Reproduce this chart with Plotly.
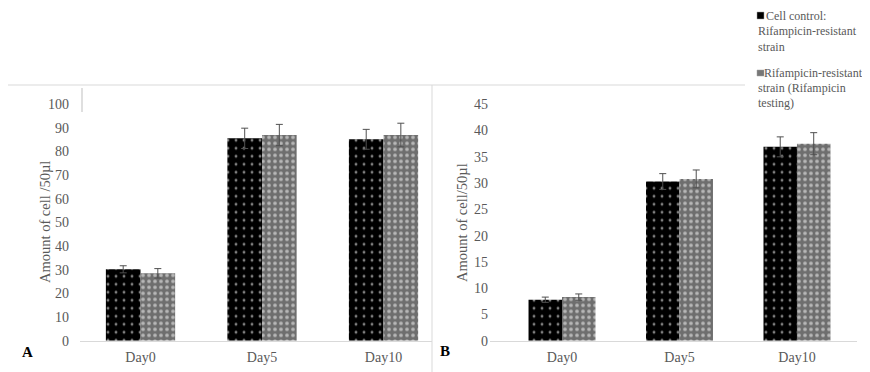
import plotly.graph_objects as go

# page body has an 8px margin: the figure is placed at (8, 8)
OFF = 8
W, H = 870 - OFF, 372 - OFF

days = ["Day0", "Day5", "Day10"]
legend_lines = [["Cell control:", "Rifampicin-resistant", "strain"],
                ["Rifampicin-resistant", "strain (Rifampicin", "testing)"]]

a_control = [30.2, 85.6, 85.2]
a_control_err = [1.5, 4.3, 4.2]
a_test = [28.5, 87.0, 87.0]
a_test_err = [2.0, 4.5, 5.0]

b_control = [7.8, 30.3, 36.9]
b_control_err = [0.5, 1.5, 1.9]
b_test = [8.3, 30.8, 37.5]
b_test_err = [0.6, 1.7, 2.1]

a_ticks = [0, 10, 20, 30, 40, 50, 60, 70, 80, 90, 100]
b_ticks = [0, 5, 10, 15, 20, 25, 30, 35, 40, 45]

FONT = "Liberation Serif"
GREY_TXT = "#595959"
LINE = "#d9d9d9"


def px(x):
    return (x - OFF) / W


def py(y):
    return 1 - (y - OFF) / H


black_pat = dict(shape=".", bgcolor="#000000", fgcolor="#ffffff", size=8, solidity=0.1)
grey_pat = dict(shape=".", bgcolor="#6e6e6e", fgcolor="#ffffff", size=6, solidity=0.3)
err_style = dict(type="data", color="#505050", thickness=1, width=3.5)

fig = go.Figure()
fig.add_trace(go.Bar(x=days, y=a_control, name="Cell control: Rifampicin-resistant strain",
                     marker=dict(color="#000000", pattern=black_pat, line=dict(width=0)),
                     error_y=dict(array=a_control_err, **err_style), xaxis="x", yaxis="y"))
fig.add_trace(go.Bar(x=days, y=a_test, name="Rifampicin-resistant strain (Rifampicin testing)",
                     marker=dict(color="#6e6e6e", pattern=grey_pat, line=dict(width=0)),
                     error_y=dict(array=a_test_err, **err_style), xaxis="x", yaxis="y"))
fig.add_trace(go.Bar(x=days, y=b_control, name="Cell control: Rifampicin-resistant strain",
                     marker=dict(color="#000000", pattern=black_pat, line=dict(width=0)),
                     error_y=dict(array=b_control_err, **err_style), xaxis="x2", yaxis="y2"))
fig.add_trace(go.Bar(x=days, y=b_test, name="Rifampicin-resistant strain (Rifampicin testing)",
                     marker=dict(color="#6e6e6e", pattern=grey_pat, line=dict(width=0)),
                     error_y=dict(array=b_test_err, **err_style), xaxis="x2", yaxis="y2"))

ydom = [py(340.7), py(104.3)]
tickfont = dict(family=FONT, size=14, color=GREY_TXT)

fig.update_layout(
    width=W, height=H,
    margin=dict(l=0, r=0, t=0, b=0, autoexpand=False),
    paper_bgcolor="white", plot_bgcolor="white",
    barmode="group", bargap=0.43, bargroupgap=0,
    font=dict(family=FONT, color=GREY_TXT),
    showlegend=False,
    xaxis=dict(domain=[px(80), px(432)], range=[-0.498, 2.399], showline=True,
               linecolor=LINE, linewidth=1, showgrid=False, ticks="",
               tickfont=tickfont, ticklabelstandoff=3),
    yaxis=dict(domain=ydom, range=[0, 100], tickvals=a_ticks, showgrid=False,
               showline=False, zeroline=False, tickfont=tickfont,
               ticklabelstandoff=10, anchor="x"),
    xaxis2=dict(domain=[px(490), px(857)], range=[-0.613, 2.511], showline=True,
                linecolor=LINE, linewidth=1, showgrid=False, ticks="",
                tickfont=tickfont, ticklabelstandoff=3, anchor="y2"),
    yaxis2=dict(domain=ydom, range=[0, 45], tickvals=b_ticks, showgrid=False,
                showline=False, zeroline=False, tickfont=tickfont,
                ticklabelstandoff=1, anchor="x2"),
)

fig.add_annotation(text="Amount of cell /50µl", x=px(35), y=py(222), xref="paper", yref="paper",
                   textangle=-90, showarrow=False, font=dict(family=FONT, size=14.5, color=GREY_TXT))
fig.add_annotation(text="Amount of cell/50µl", x=px(462), y=py(222), xref="paper", yref="paper",
                   textangle=-90, showarrow=False, font=dict(family=FONT, size=14.5, color=GREY_TXT))
fig.add_annotation(text="<b>A</b>", x=px(20), y=py(362), xref="paper", yref="paper",
                   showarrow=False, font=dict(family=FONT, size=15, color="#000000"))
fig.add_annotation(text="<b>B</b>", x=px(445), y=py(361), xref="paper", yref="paper",
                   showarrow=False, font=dict(family=FONT, size=15, color="#000000"))

# custom legend (text as annotations, swatches as shapes)
legend_y = [[16, 31, 47], [73, 88, 103]]
legend_x = [[764, 756, 756], [762, 756, 756]]
swatch_colors = ["#000000", "#777777"]
swatch_y = [(12, 19), (70, 76)]
for i in range(2):
    for j, line in enumerate(legend_lines[i]):
        fig.add_annotation(text=line, x=px(legend_x[i][j]), y=py(legend_y[i][j]),
                           xref="paper", yref="paper", xanchor="left", yanchor="middle",
                           showarrow=False, font=dict(family=FONT, size=12, color=GREY_TXT))
    fig.add_shape(type="rect", xref="paper", yref="paper", x0=px(757), x1=px(764),
                  y0=py(swatch_y[i][1]), y1=py(swatch_y[i][0]),
                  fillcolor=swatch_colors[i], line=dict(color="#a0a0a0", width=0.5))

# frame lines
fig.add_shape(type="line", xref="paper", yref="paper", x0=0, x1=px(745), y0=py(85), y1=py(85),
              line=dict(color=LINE, width=1))
fig.add_shape(type="line", xref="paper", yref="paper", x0=px(432), x1=px(432), y0=py(85), y1=0,
              line=dict(color=LINE, width=1))
fig.add_shape(type="line", xref="paper", yref="paper", x0=px(82), x1=px(82), y0=py(88), y1=py(112),
              line=dict(color="#bfbfbf", width=1))

fig.write_html("out.html")
